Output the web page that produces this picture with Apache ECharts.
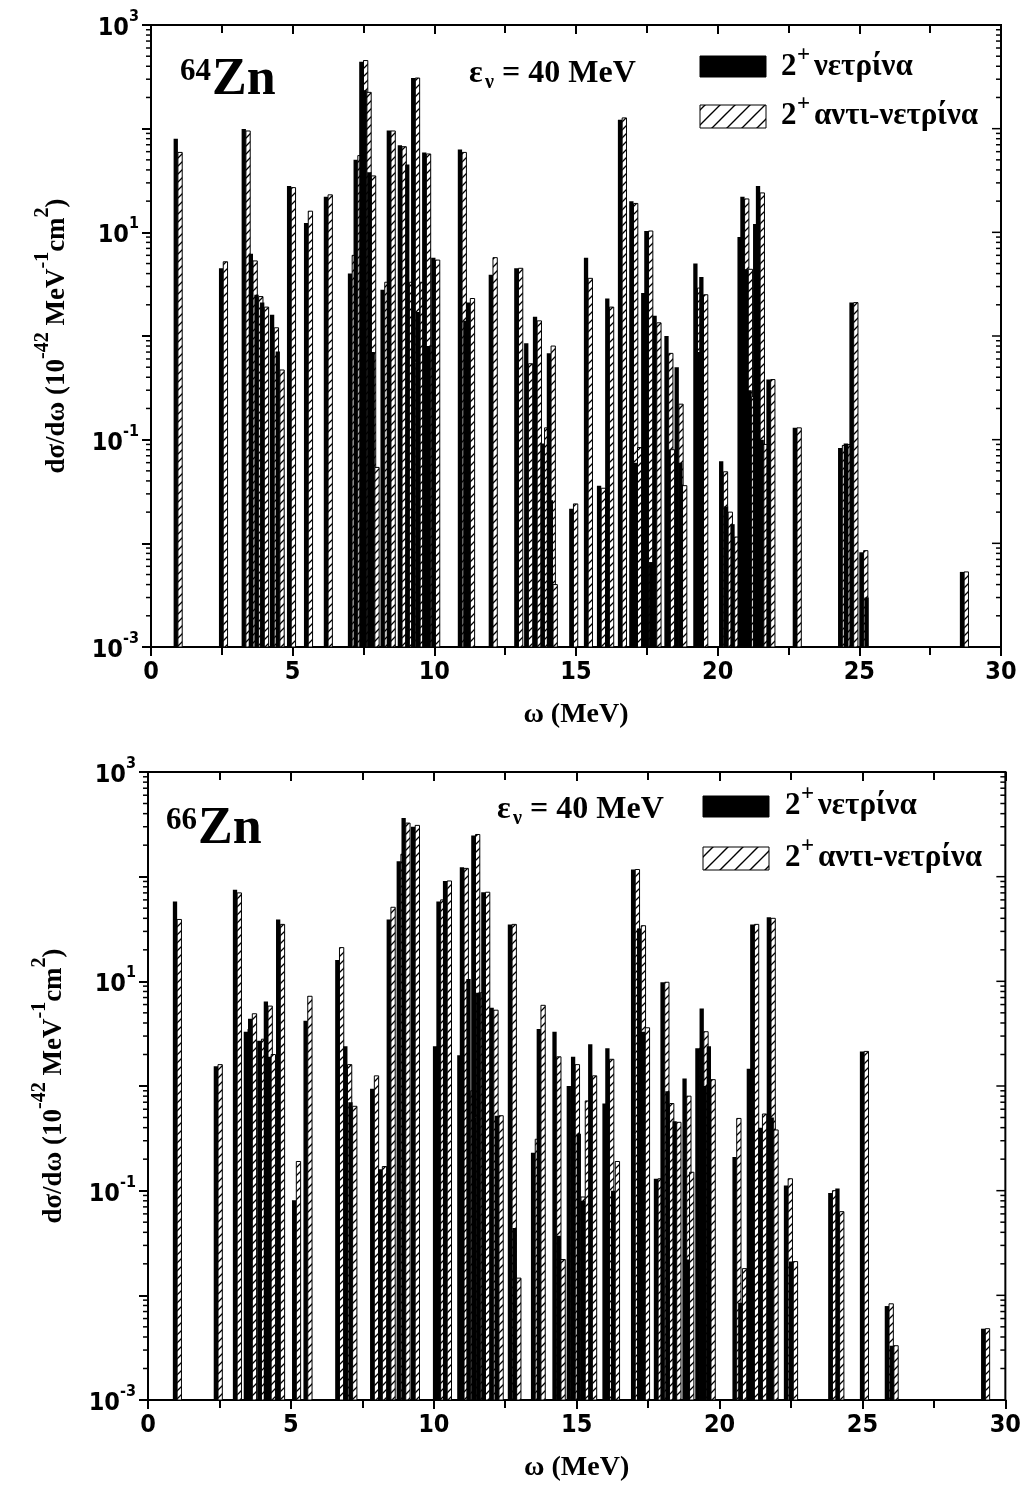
<!DOCTYPE html>
<html>
<head>
<meta charset="utf-8">
<title>Zn-64 / Zn-66 2+ cross sections</title>
<script src="https://cdn.jsdelivr.net/npm/echarts@6/dist/echarts.min.js"></script>
<style>
html,body{margin:0;padding:0;background:#fff;}
#chart{width:1024px;height:1499px;}
</style>
</head>
<body>
<div id="chart"></div>
<script>
// ---------------- DATA ----------------
// 64Zn panel: excitation energy (MeV), neutrino and antineutrino cross sections
const zn64Omega = [
  0.95, 2.55, 3.35, 3.6, 3.8, 4.0, 4.35, 4.55, 4.95, 5.55,
  6.25, 7.1, 7.3, 7.5, 7.62, 7.78, 7.9, 8.25, 8.47, 8.86,
  9.12, 9.33, 9.5, 9.72, 9.86, 10.04, 10.98, 11.17, 11.27, 12.07,
  12.97, 13.32, 13.63, 13.89, 14.12, 14.19, 14.91, 15.43, 15.89, 16.18,
  16.63, 17.03, 17.17, 17.45, 17.56, 17.73, 17.85, 18.27, 18.33, 18.63,
  18.76, 19.29, 19.4, 19.5, 20.2, 20.37, 20.6, 20.85, 20.95, 21.08,
  21.2, 21.4, 21.5, 21.63, 21.87, 22.8, 24.4, 24.6, 24.8, 25.15,
  25.33, 28.7
];
const zn64Nu = [
  80, 4.5, 99, 6.2, 2.5, 2.1, 1.6, 0.71, 28, 12.3,
  22, 4.0, 50, 443, 235, 38, 0.7, 2.8, 96, 69,
  45, 308, 1.7, 59, 0.8, 5.7, 63, 1.4, 2.1, 3.9,
  4.5, 0.85, 1.53, 0.092, 0.68, 0.026, 0.0216, 5.7, 0.036, 2.3,
  122, 20, 0.06, 2.6, 10.3, 0.0066, 1.57, 1.0, 0.08, 0.5,
  0.06, 5.0, 0.7, 3.7, 0.062, 0.0226, 0.0153, 9.0, 22, 4.4,
  0.3, 12, 28, 0.1, 0.38, 0.13, 0.083, 0.092, 2.1, 0.0082,
  0.003, 0.0053
];
const zn64AntiNu = [
  59, 5.2, 95, 5.3, 2.4, 1.9, 1.2, 0.47, 27, 16,
  23, 6.0, 55, 454, 224, 35, 0.054, 3.3, 95, 67,
  3.3, 308, 3.3, 57, 0.8, 5.4, 59, 1.3, 2.3, 5.7,
  4.5, 0.54, 1.4, 0.13, 0.8, 0.004, 0.024, 3.6, 0.034, 1.9,
  127, 19, 0.084, 0.015, 10.3, null, 1.34, 0.68, 0.08, 0.22,
  0.036, 2.9, 0.7, 2.5, 0.049, 0.02, 0.0115, 10.6, 21, 4.4,
  0.26, 1.0, 24, 0.09, 0.38, 0.13, 0.088, 0.09, 2.1, 0.0085,
  null, 0.0053
];

// 66Zn panel
const zn66Omega = [
  1.02, 2.45, 3.12, 3.5, 3.65, 3.97, 4.2, 4.31, 4.63, 5.19,
  5.59, 6.7, 6.98, 7.16, 7.92, 8.2, 8.5, 8.85, 9.02, 9.35,
  10.12, 10.24, 10.47, 10.97, 11.06, 11.29, 11.46, 11.63, 11.81, 12.1,
  12.28, 12.74, 12.9, 13.55, 13.75, 14.3, 14.45, 14.8, 14.95, 15.15,
  15.3, 15.55, 16.05, 16.15, 16.35, 17.05, 17.26, 17.4, 17.85, 18.08,
  18.25, 18.5, 18.85, 18.95, 19.3, 19.45, 19.55, 19.7, 20.6, 20.8,
  21.1, 21.22, 21.5, 21.8, 21.9, 22.4, 22.58, 23.95, 24.2, 25.06,
  25.93, 26.1, 29.3
];
const zn66Nu = [
  58, 1.54, 75, 3.3, 4.4, 2.7, 6.4, 1.9, 39, 0.081,
  4.2, 16, 2.4, 0.7, 0.94, 0.16, 39, 140, 364, 300,
  2.4, 58, 91, 1.97, 123, 10.5, 247, 7.8, 71, 5.6,
  0.52, 35, 0.044, 0.23, 3.5, 3.3, 0.037, 1.0, 1.9, 0.35,
  0.08, 2.5, 0.68, 2.3, 0.1, 117, 32, 3.3, 0.13, 9.8,
  0.89, 0.46, 1.18, 0.022, 2.3, 5.5, 1.0, 2.4, 0.21, 0.0085,
  1.46, 35, 0.4, 41, 0.5, 0.112, 0.021, 0.095, 0.105, 2.14,
  0.0079, 0.0033, 0.0048
];
const zn66AntiNu = [
  39, 1.6, 70, 3.5, 4.9, 2.8, 5.8, 2.0, 35, 0.19,
  7.2, 21, 1.6, 0.64, 1.25, 0.17, 51, 164, 325, 309,
  2.4, 60, 91, 1.97, 120, 0.9, 253, 7.8, 71, 5.3,
  0.52, 35, 0.0146, 0.31, 5.9, 1.9, 0.022, 0.73, 1.6, 0.087,
  0.72, 1.25, 0.6, 1.8, 0.19, 117, 34, 3.6, 0.13, 9.8,
  0.68, 0.45, 0.8, 0.15, 2.3, 3.3, 1.0, 1.15, 0.49, 0.018,
  1.46, 35, 0.54, 40, 0.38, 0.13, 0.021, 0.1, 0.063, 2.14,
  0.0083, 0.0033, 0.0048
];

// axis ticks / labels
const xTickValues = [0, 5, 10, 15, 20, 25, 30];
const yLabelExponents = [-3, -1, 1, 3];
const yDecadeExponents = [-3, -2, -1, 0, 1, 2, 3];
const yMinorMultipliers = [2, 3, 4, 5, 6, 7, 8, 9];

// texts
const nucleusLabels = [{mass: '64', sym: 'Zn'}, {mass: '66', sym: 'Zn'}];
const legendNames = ['νετρίνα', 'αντι-νετρίνα'];
const energyText = '= 40 MeV';

// ---------------- STYLE ----------------
const SERIF = "'Liberation Serif','Times New Roman','DejaVu Serif',serif";
const SANS = "'Liberation Sans Narrow','Arial Narrow','DejaVu Sans Condensed','Liberation Sans',Arial,sans-serif";

function makeHatch(step, lw) {
  const c = document.createElement('canvas');
  c.width = step; c.height = step;
  const g = c.getContext('2d');
  g.fillStyle = '#fff';
  g.fillRect(0, 0, step, step);
  g.strokeStyle = '#000';
  g.lineWidth = lw;
  g.beginPath();
  g.moveTo(-1, step + 1); g.lineTo(step + 1, -1);
  g.moveTo(-2, 2); g.lineTo(2, -2);
  g.moveTo(step - 2, step + 2); g.lineTo(step + 2, step - 2);
  g.stroke();
  return c;
}
const barHatch = makeHatch(8, 1.3);
const legendHatch = makeHatch(15, 1.4);

const BW = 4.3;
function renderPair(params, api) {
  const w = api.value(0), nu = api.value(1), an = api.value(2);
  const base = api.coord([w, 0.001]);
  const children = [];
  if (nu > 0) {
    const t = api.coord([w, nu]);
    children.push({type: 'rect', shape: {x: t[0] - BW, y: t[1], width: BW, height: base[1] - t[1]},
      style: {fill: '#000'}});
  }
  if (an > 0) {
    const t = api.coord([w, an]);
    children.push({type: 'rect', shape: {x: t[0], y: t[1], width: BW, height: base[1] - t[1]},
      style: {fill: {image: barHatch, repeat: 'repeat'}, stroke: '#000', lineWidth: 1}});
  }
  return {type: 'group', children: children};
}

// log minor ticks (left, outward) and mirror ticks (right, inward)
const yTickData = [];
yDecadeExponents.forEach(function (e) {
  yTickData.push([0, Math.pow(10, e), 1]);
  if (e < 3) yMinorMultipliers.forEach(function (m) { yTickData.push([0, m * Math.pow(10, e), 0]); });
});
function renderTicks(params, api) {
  const cs = params.coordSys;
  const v = api.value(1), major = api.value(2);
  const y = api.coord([0, v])[1];
  const L = major ? 9 : 5;
  const left = cs.x, right = cs.x + cs.width;
  const ch = [];
  if (!major) ch.push({type: 'line', shape: {x1: left - L, y1: y, x2: left, y2: y}, style: {stroke: '#000', lineWidth: 1.5}});
  ch.push({type: 'line', shape: {x1: right - L, y1: y, x2: right, y2: y}, style: {stroke: '#000', lineWidth: 1.5}});
  return {type: 'group', children: ch};
}

function pairData(om, nu, an) {
  return om.map(function (w, i) { return [w, nu[i], an[i] == null ? 0 : an[i]]; });
}

const grids = [
  {left: 151, top: 25, width: 850, height: 622},
  {left: 148, top: 772, width: 860, height: 628}
];

function xAxisBottom(gi) {
  return {
    gridIndex: gi, type: 'value', min: 0, max: 30, interval: 5, position: 'bottom',
    axisLine: {show: true, onZero: false, lineStyle: {color: '#000', width: 2}},
    axisTick: {show: true, inside: false, length: 9, lineStyle: {color: '#000', width: 2}},
    minorTick: {show: true, splitNumber: 2, length: 8, lineStyle: {color: '#000', width: 2}},
    splitLine: {show: false},
    axisLabel: {
      color: '#000', fontFamily: SANS, fontWeight: 'bold', fontSize: 25, margin: 13,
      formatter: function (v) { return xTickValues.indexOf(v) >= 0 ? String(v) : ''; }
    },
    name: 'ω (MeV)', nameLocation: 'middle', nameGap: 54,
    nameTextStyle: {color: '#000', fontFamily: SERIF, fontWeight: 'bold', fontSize: 28}
  };
}
function xAxisTop(gi) {
  return {
    gridIndex: gi, type: 'value', min: 0, max: 30, interval: 5, position: 'top',
    axisLine: {show: true, onZero: false, lineStyle: {color: '#000', width: 2}},
    axisTick: {show: true, inside: true, length: 9, lineStyle: {color: '#000', width: 2}},
    minorTick: {show: true, splitNumber: 2, length: 8, lineStyle: {color: '#000', width: 2}},
    splitLine: {show: false}, axisLabel: {show: false}
  };
}
function yAxis(gi) {
  return {
    gridIndex: gi, type: 'log', logBase: 10, min: 0.001, max: 1000, splitNumber: 6,
    axisLine: {show: true, onZero: false, lineStyle: {color: '#000', width: 2}},
    axisTick: {show: true, inside: false, length: 9, lineStyle: {color: '#000', width: 2}},
    splitLine: {show: false},
    axisLabel: {
      margin: 12, color: '#000',
      formatter: function (v) {
        const e = Math.round(Math.log10(v));
        return yLabelExponents.indexOf(e) >= 0 ? '{b|10}{s|' + e + '}' : '';
      },
      rich: {
        b: {fontFamily: SANS, fontWeight: 'bold', fontSize: 25, lineHeight: 32, verticalAlign: 'bottom', color: '#000'},
        s: {fontFamily: SANS, fontWeight: 'bold', fontSize: 16, lineHeight: 16, verticalAlign: 'top', color: '#000'}
      }
    },
    name: '{n|dσ/dω (10}{s|-42}{n| MeV}{s|-1}{n|cm}{s|2}{n|)}',
    nameLocation: 'middle', nameRotate: 90, nameGap: 80,
    nameTextStyle: {
      rich: {
        n: {fontFamily: SERIF, fontWeight: 'bold', fontSize: 27, lineHeight: 38, verticalAlign: 'bottom', color: '#000'},
        s: {fontFamily: SERIF, fontWeight: 'bold', fontSize: 20, lineHeight: 20, verticalAlign: 'top', color: '#000'}
      }
    }
  };
}

function txt(left, top, text, size, family) {
  return {type: 'text', left: left, top: top, z: 100,
    style: {text: text, fill: '#000', font: 'bold ' + size + 'px ' + (family || SERIF)}};
}

// panel annotation graphics (positions only)
const ann = [
  {nx: 180, ny: 56, zx: 212, zy: 55, ex: 469, ey: 58, lx: 700, ly1: 56, ly2: 105, tx: 781, ty1: 51, ty2: 100},
  {nx: 166, ny: 805, zx: 198, zy: 804, ex: 497, ey: 794, lx: 703, ly1: 796, ly2: 847, tx: 785, ty1: 790, ty2: 842}
];
const graphics = [];
ann.forEach(function (a, i) {
  graphics.push(txt(a.nx, a.ny, nucleusLabels[i].mass, 31));
  graphics.push(txt(a.zx, a.zy, nucleusLabels[i].sym, 52));
  graphics.push(txt(a.ex, a.ey, 'ε', 32));
  graphics.push(txt(a.ex + 16, a.ey + 15, 'ν', 20));
  graphics.push(txt(a.ex + 33, a.ey, energyText, 32));
  graphics.push({type: 'rect', z: 100, shape: {x: a.lx, y: a.ly1, width: 66, height: 21}, style: {fill: '#000', stroke: '#000', lineWidth: 1}});
  graphics.push({type: 'rect', z: 100, shape: {x: a.lx, y: a.ly2, width: 66, height: 23},
    style: {fill: {image: legendHatch, repeat: 'repeat'}, stroke: '#000', lineWidth: 1}});
  graphics.push(txt(a.tx, a.ty1, '2', 31));
  graphics.push(txt(a.tx + 16, a.ty1 - 7, '+', 23));
  graphics.push(txt(a.tx + 33, a.ty1, legendNames[0], 31));
  graphics.push(txt(a.tx, a.ty2, '2', 31));
  graphics.push(txt(a.tx + 16, a.ty2 - 7, '+', 23));
  graphics.push(txt(a.tx + 33, a.ty2, legendNames[1], 31));
});

const option = {
  animation: false,
  backgroundColor: '#fff',
  grid: grids.map(function (g) {
    return Object.assign({show: true, borderColor: '#000', borderWidth: 2, backgroundColor: 'transparent'}, g);
  }),
  xAxis: [xAxisBottom(0), xAxisTop(0), xAxisBottom(1), xAxisTop(1)],
  yAxis: [yAxis(0), yAxis(1)],
  series: [
    {type: 'custom', name: '64Zn', xAxisIndex: 0, yAxisIndex: 0, clip: true, silent: true,
      encode: {x: 0, y: 1}, renderItem: renderPair, data: pairData(zn64Omega, zn64Nu, zn64AntiNu)},
    {type: 'custom', name: '66Zn', xAxisIndex: 2, yAxisIndex: 1, clip: true, silent: true,
      encode: {x: 0, y: 1}, renderItem: renderPair, data: pairData(zn66Omega, zn66Nu, zn66AntiNu)},
    {type: 'custom', xAxisIndex: 0, yAxisIndex: 0, clip: false, silent: true, z: 5,
      encode: {x: 0, y: 1}, renderItem: renderTicks, data: yTickData},
    {type: 'custom', xAxisIndex: 2, yAxisIndex: 1, clip: false, silent: true, z: 5,
      encode: {x: 0, y: 1}, renderItem: renderTicks, data: yTickData}
  ],
  graphic: graphics
};

const chart = echarts.init(document.getElementById('chart'));
chart.setOption(option);
</script>
</body>
</html>
